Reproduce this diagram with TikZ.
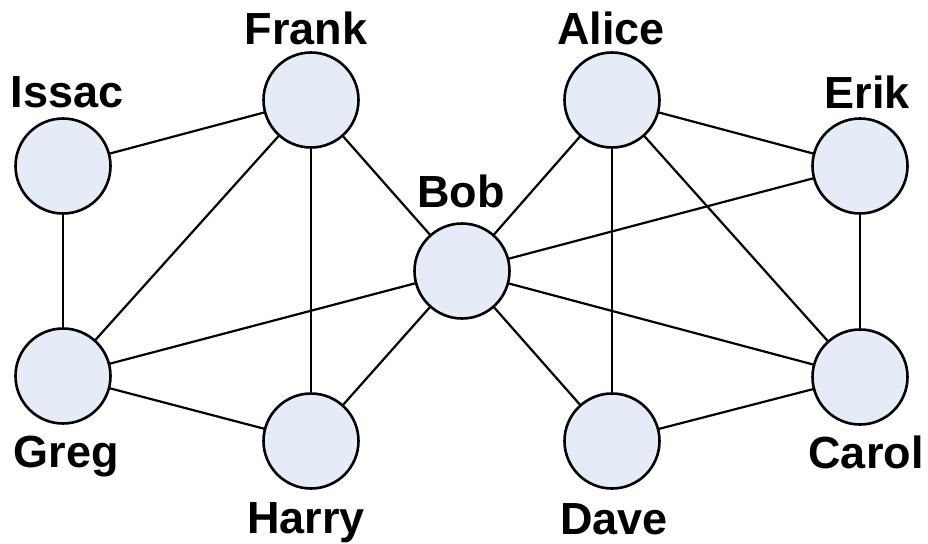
\documentclass[tikz,border=0pt]{standalone}
\usepackage{fontspec}
\setmainfont{Liberation Sans}
\definecolor{nodefill}{RGB}{230,236,247}
\begin{document}
\begin{tikzpicture}[x=1pt,y=-1pt,
  personnode/.style={circle,draw=black,line width=2.6pt,fill=nodefill,minimum size=95pt,inner sep=0pt},
  personlabel/.style={anchor=base,inner sep=0pt,font=\fontsize{45}{48}\selectfont\bfseries},
  edgeline/.style={line width=2.2pt,draw=black}]
\useasboundingbox (0,0) rectangle (928,543);
% edges drawn first, nodes on top
\coordinate (cI) at (63,166);
\coordinate (cF) at (311,100);
\coordinate (cB) at (462,271);
\coordinate (cA) at (612,100);
\coordinate (cE) at (860,166);
\coordinate (cG) at (63,376);
\coordinate (cH) at (311,441);
\coordinate (cD) at (612,441);
\coordinate (cC) at (860,377);
\foreach \a/\b in {cI/cF,cI/cG,cF/cG,cF/cH,cF/cB,cG/cB,cG/cH,cH/cB,cB/cA,cB/cE,cB/cC,cB/cD,cA/cE,cA/cD,cA/cC,cE/cC,cD/cC}
  \draw[edgeline] (\a) -- (\b);
\node[personnode] (issac) at (cI) {};
\node[personnode] (frank) at (cF) {};
\node[personnode] (bob) at (cB) {};
\node[personnode] (alice) at (cA) {};
\node[personnode] (erik) at (cE) {};
\node[personnode] (greg) at (cG) {};
\node[personnode] (harry) at (cH) {};
\node[personnode] (dave) at (cD) {};
\node[personnode] (carol) at (cC) {};
\node[personlabel] (lissac) at (67,107) {Issac};
\node[personlabel] (lfrank) at (306,45) {Frank};
\node[personlabel] (lbob) at (461,207) {Bob};
\node[personlabel] (lalice) at (611,45) {Alice};
\node[personlabel] (lerik) at (867,108) {Erik};
\node[personlabel] (lgreg) at (66,467) {Greg};
\node[personlabel] (lharry) at (306,533) {Harry};
\node[personlabel] (ldave) at (614,534) {Dave};
\node[personlabel] (lcarol) at (866,468) {Carol};
\end{tikzpicture}
\end{document}
